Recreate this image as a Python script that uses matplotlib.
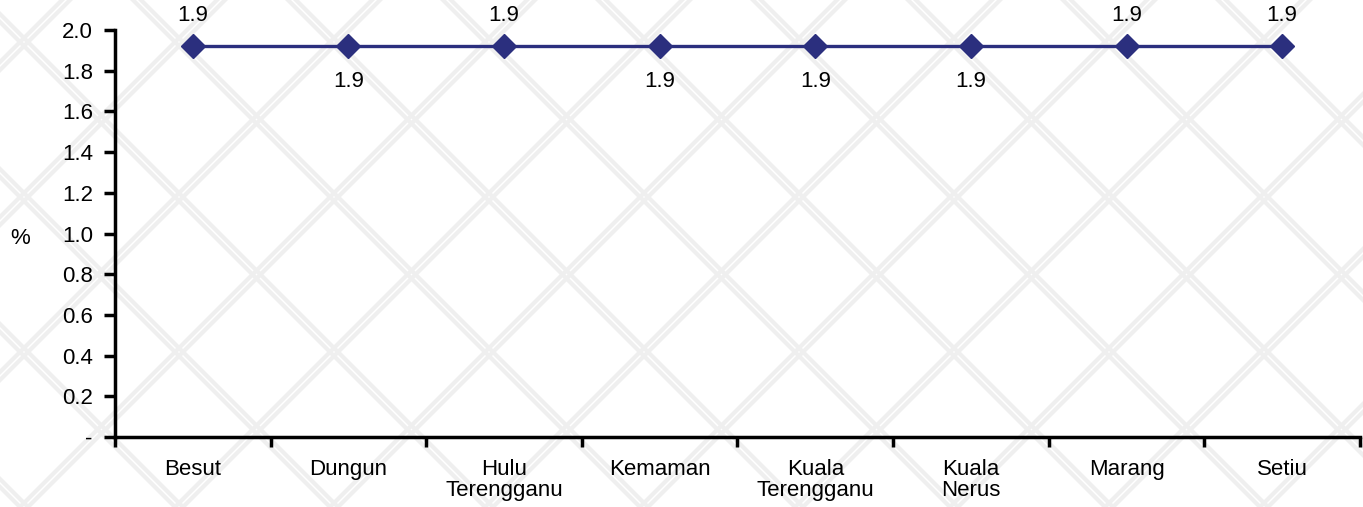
import numpy as np
import matplotlib.pyplot as plt

plt.rcParams['font.family'] = ['Liberation Sans', 'DejaVu Sans']

districts = ["Besut", "Dungun", "Hulu\nTerengganu", "Kemaman", "Kuala\nTerengganu",
             "Kuala\nNerus", "Marang", "Setiu"]
values = [1.92, 1.92, 1.92, 1.92, 1.92, 1.92, 1.92, 1.92]
labels = ["1.9"] * 8
label_above = [True, False, True, False, False, False, True, True]
yticks = [0, 0.2, 0.4, 0.6, 0.8, 1.0, 1.2, 1.4, 1.6, 1.8, 2.0]
ytick_labels = ["-", "0.2", "0.4", "0.6", "0.8", "1.0", "1.2", "1.4", "1.6", "1.8", "2.0"]

fig = plt.figure(figsize=(13.63, 5.07), dpi=100)

# faint diamond lattice in the background
bg = fig.add_axes([0, 0, 1, 1], zorder=-1)
bg.set_xlim(0, 1363)
bg.set_ylim(0, 507)
bg.axis('off')
for c in np.arange(-600, 2000, 155):
    for off in (0, 8):
        bg.plot([c + off, c + off + 600], [0, 600], color='#efefef', lw=3)
        bg.plot([c + off, c + off - 600], [0, 600], color='#efefef', lw=3)

ax = fig.add_axes([115 / 1363, 1 - 437 / 507, 1245 / 1363, 407 / 507])
ax.patch.set_alpha(0)
x = np.arange(len(districts))
ax.plot(x, values, color='#2b2f7e', lw=2.4, marker='D', markersize=12, zorder=3)

for xi, v, lab, up in zip(x, values, labels, label_above):
    ax.annotate(lab, (xi, v), xytext=(0, 22 if up else -25), textcoords='offset points',
                ha='center', va='center', fontsize=16)

ax.set_xlim(-0.5, len(districts) - 0.5)
ax.set_ylim(0, 2.0)
ax.set_yticks(yticks)
ax.set_yticklabels(ytick_labels, fontsize=16)
ax.set_xticks(x)
ax.set_xticklabels(districts, fontsize=16, linespacing=1.0)
ax.tick_params(axis='x', length=0, pad=16)
ax.set_xticks(np.arange(-0.5, len(districts), 1), minor=True)
ax.tick_params(axis='x', which='minor', length=7, width=2.5, direction='out')
ax.tick_params(axis='y', length=8, width=2.5, direction='out', pad=8)

for s in ['top', 'right']:
    ax.spines[s].set_visible(False)
for s in ['left', 'bottom']:
    ax.spines[s].set_linewidth(2.5)

fig.text(20 / 1363, 1 - 238 / 507, "%", fontsize=16, ha='center', va='center')

fig.savefig("out.png", dpi=100)
